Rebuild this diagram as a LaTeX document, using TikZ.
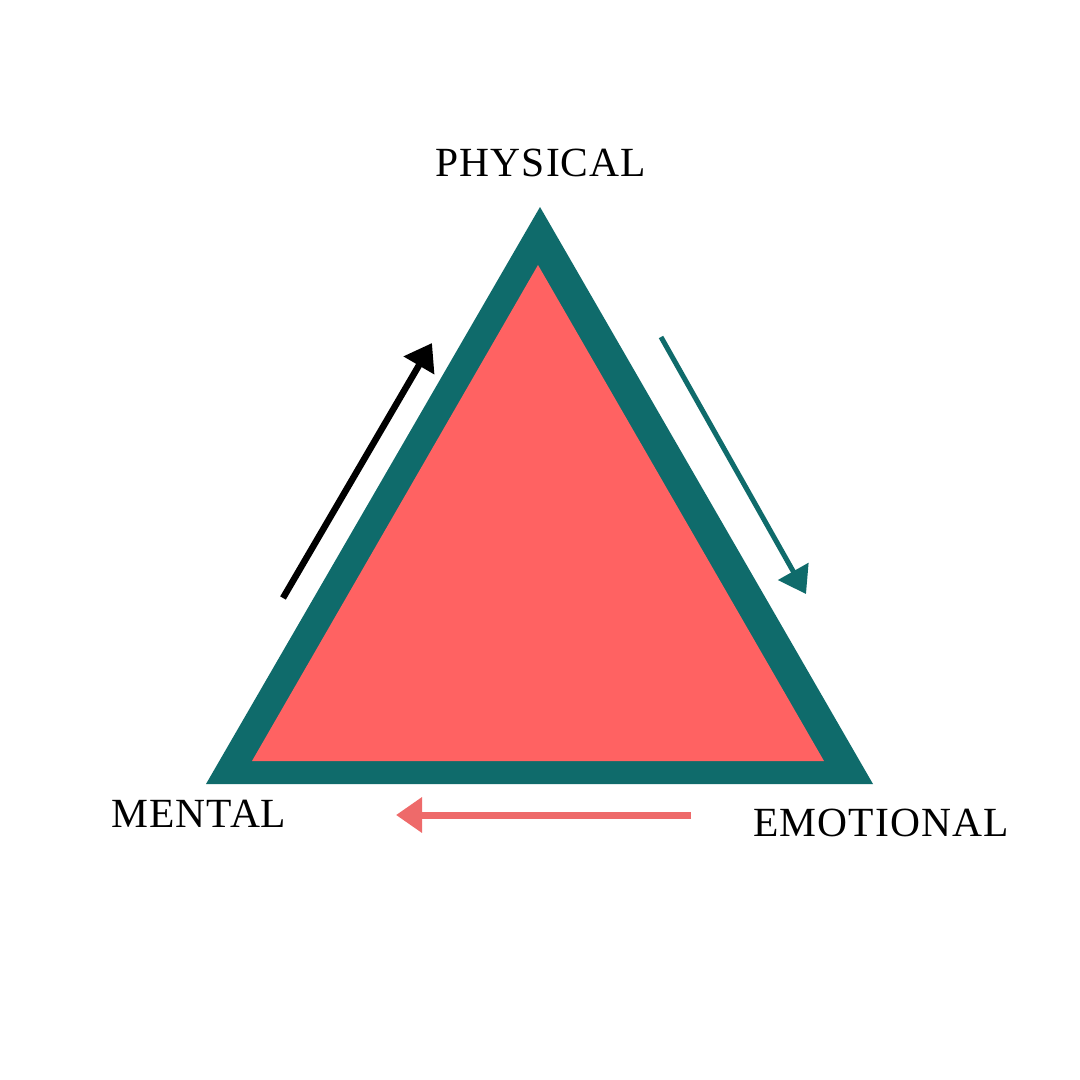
\documentclass[tikz,border=0pt]{standalone}
\usepackage{fontspec}
\setmainfont{Liberation Serif}[LetterSpace=2.5]
\usetikzlibrary{arrows.meta}
\definecolor{tealc}{HTML}{0F6B6B}
\definecolor{coral}{HTML}{FF6262}
\definecolor{coralarrow}{HTML}{EE6A6A}
\begin{document}
\begin{tikzpicture}[x=1pt,y=-1pt,
  lbl/.style={font=\fontsize{41.5}{41.5}\selectfont, anchor=base, inner sep=0pt, text=black},
  arr/.style={line width=#1, -{Triangle[length=26pt,width=34pt]}}]
\fill[white] (0,0) rectangle (1080,1080);
\useasboundingbox (0,0) rectangle (1080,1080);
% outer teal triangle
\fill[tealc] (540,207) -- (873,784) -- (206,784) -- cycle;
% inner coral triangle
\fill[coral] (538,265) -- (824,761) -- (252,761) -- cycle;
% labels
\node[lbl] (phys) at (541,176) {PHYSICAL};
\node[lbl] (ment) at (199,827) {MENTAL};
\node[lbl] (emo) at (881,836) {EMOTIONAL};
% arrows
\coordinate (a1s) at (283,598);
\coordinate (a1e) at (432,343);
\coordinate (a2s) at (661,337);
\coordinate (a2e) at (806,594);
\coordinate (a3s) at (691,815);
\coordinate (a3e) at (396,815);
\draw[arr=6.5pt, black] (a1s) -- (a1e);
\draw[arr=5pt, tealc] (a2s) -- (a2e);
\draw[arr=7pt, coralarrow] (a3s) -- (a3e);
\end{tikzpicture}
\end{document}
